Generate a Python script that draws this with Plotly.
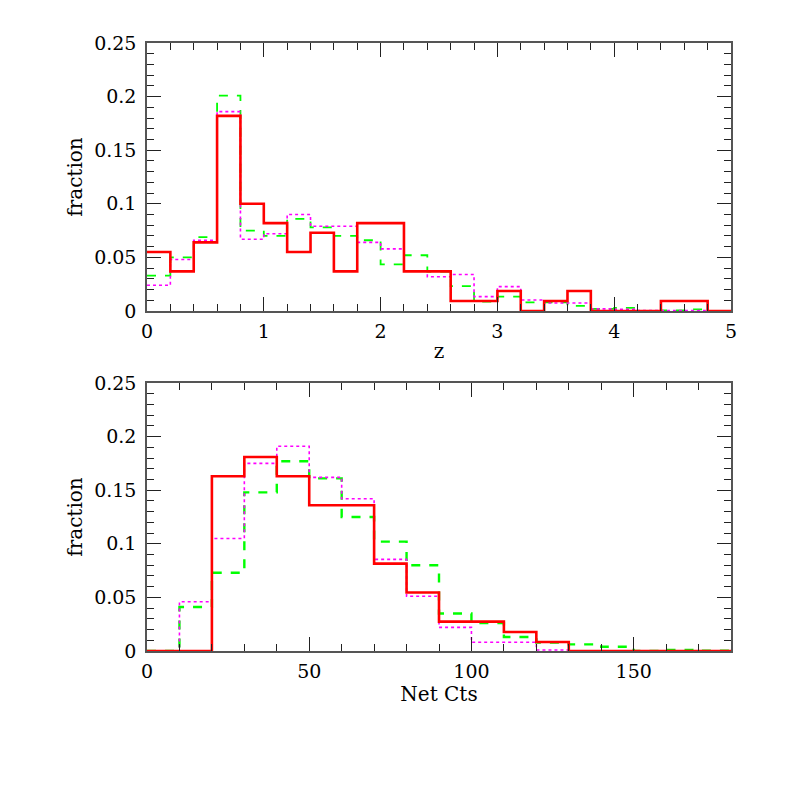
import plotly.graph_objects as go
from plotly.subplots import make_subplots

# ---- data ----
z_edges = [round(0.2 * i, 1) for i in range(26)]
z_red = [0.055, 0.037, 0.064, 0.182, 0.100, 0.082, 0.055, 0.073, 0.037, 0.082,
         0.082, 0.037, 0.037, 0.0093, 0.0093, 0.0187, 0.0, 0.0093, 0.0187, 0.0,
         0.0, 0.0, 0.0093, 0.0093, 0.0]
z_magenta = [0.024, 0.048, 0.066, 0.186, 0.067, 0.072, 0.090, 0.079, 0.079, 0.064,
             0.058, 0.0376, 0.032, 0.034, 0.0134, 0.0227, 0.0103, 0.0075, 0.0075, 0.002,
             0.0015, 0.0005, 0.0005, 0.0005, 0.0]
z_green = [0.033, 0.050, 0.069, 0.201, 0.075, 0.070, 0.086, 0.078, 0.070, 0.066,
           0.0435, 0.052, 0.0367, 0.0233, 0.0087, 0.0134, 0.0081, 0.0081, 0.0047, 0.002,
           0.003, 0.0, 0.0006, 0.0015, 0.0]

c_edges = [10 * i for i in range(19)]
c_red = [0.0, 0.0, 0.163, 0.181, 0.163, 0.136, 0.136, 0.0815, 0.0545, 0.0274,
         0.0274, 0.0177, 0.0084, 0.0, 0.0, 0.0, 0.0, 0.0]
c_magenta = [0.0, 0.046, 0.105, 0.175, 0.191, 0.162, 0.142, 0.0855, 0.051, 0.022,
             0.0081, 0.0081, 0.0009, 0.0, 0.0, 0.0, 0.0, 0.0]
c_green = [0.0, 0.041, 0.073, 0.148, 0.177, 0.161, 0.125, 0.102, 0.080, 0.035,
           0.026, 0.013, 0.0078, 0.0062, 0.004, 0.0, 0.0009, 0.0003]

y_tickvals = [0, 0.05, 0.1, 0.15, 0.2, 0.25]
y_ticktext = ["0", "0.05", "0.1", "0.15", "0.2", "0.25"]
z_tickvals = [0, 1, 2, 3, 4, 5]
c_tickvals = [0, 50, 100, 150]

FONT = "DejaVu Serif"

fig = make_subplots(rows=2, cols=1, vertical_spacing=0.1184)


def step(edges, vals):
    return list(edges), list(vals) + [vals[-1]]


series = [
    ("green", "#00ff00", "dash", 1.8),
    ("magenta", "#ff00ff", "dot", 1.6),
    ("red", "#ff0000", "solid", 2.6),
]
top = {"red": z_red, "magenta": z_magenta, "green": z_green}
bot = {"red": c_red, "magenta": c_magenta, "green": c_green}

for name, col, dash, w in series:
    x, y = step(z_edges, top[name])
    fig.add_trace(go.Scatter(x=x, y=y, mode="lines", line_shape="hv",
                             line=dict(color=col, dash=dash, width=w),
                             showlegend=False), row=1, col=1)
    x, y = step(c_edges, bot[name])
    fig.add_trace(go.Scatter(x=x, y=y, mode="lines", line_shape="hv",
                             line=dict(color=col, dash=dash, width=w + (0.6 if name == "green" else 0)),
                             showlegend=False), row=2, col=1)

axis_common = dict(showgrid=False, zeroline=False, showline=True, linecolor="#555",
                   linewidth=1.5, mirror="allticks", ticks="inside", ticklen=14,
                   tickwidth=1, tickcolor="#222", automargin=False,
                   tickfont=dict(family=FONT, size=19, color="black"))
TITLE_FONT = dict(family=FONT, size=20, color="black")

fig.update_xaxes(range=[0, 5], tickvals=z_tickvals, ticktext=[str(v) for v in z_tickvals],
                 minor=dict(ticks="inside", ticklen=7, dtick=0.2, tick0=0, tickcolor="#222"),
                 title=dict(text="z", font=TITLE_FONT, standoff=3), ticklabelstandoff=2,
                 row=1, col=1, **axis_common)
fig.update_xaxes(range=[0, 180], tickvals=c_tickvals, ticktext=[str(v) for v in c_tickvals],
                 minor=dict(ticks="inside", ticklen=7, dtick=10, tick0=0, tickcolor="#222"),
                 title=dict(text="Net Cts", font=TITLE_FONT, standoff=6), ticklabelstandoff=2,
                 row=2, col=1, **axis_common)
for r in (1, 2):
    fig.update_yaxes(range=[0, 0.25], tickvals=y_tickvals, ticktext=y_ticktext,
                     minor=dict(ticks="inside", ticklen=7, dtick=0.01, tick0=0, tickcolor="#222"),
                     title=dict(text="fraction", font=TITLE_FONT, standoff=6), ticklabelstandoff=5,
                     row=r, col=1, **axis_common)

# browser body margin of 8px is compensated in the margins
fig.update_layout(width=797, height=797, paper_bgcolor="white", plot_bgcolor="white",
                  margin=dict(l=139, r=74, t=35, b=154))
fig.layout.yaxis.domain = [0.5592, 1.0]
fig.layout.yaxis2.domain = [0.0, 0.4408]

fig.write_html("out.html")
